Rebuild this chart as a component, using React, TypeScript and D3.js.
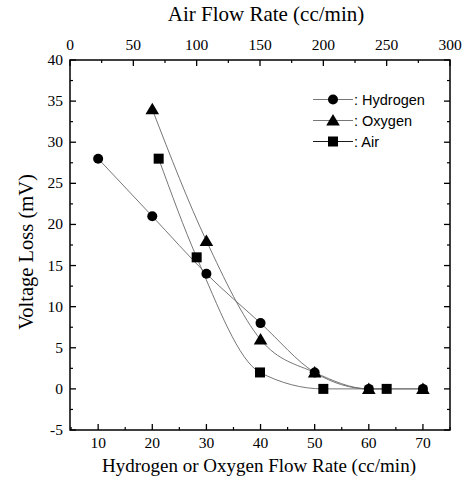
import React from "react";
import * as d3 from "d3";

const hydrogenFlow = [10, 20, 30, 40, 50, 60, 70];
const hydrogenLoss = [28, 21, 14, 8, 2, 0, 0];
const oxygenFlow = [20, 30, 40, 50, 60, 70];
const oxygenLoss = [34, 18, 6, 2, 0, 0];
const airFlow = [70, 100, 150, 200, 250];
const airLoss = [28, 16, 2, 0, 0];
const bottomTicks = [10, 20, 30, 40, 50, 60, 70];
const topTicks = [0, 50, 100, 150, 200, 250, 300];
const yTicks = [-5, 0, 5, 10, 15, 20, 25, 30, 35, 40];
const legendLabels = [": Hydrogen", ": Oxygen", ": Air"];

const L = 70, R = 450, T = 60, B = 430;

export default function App() {
  const x = d3.scaleLinear().domain([4.8, 75]).range([L, R]);
  const xTop = d3.scaleLinear().domain([0, 300]).range([L, R]);
  const y = d3.scaleLinear().domain([-5, 40]).range([B, T]);

  const line = d3
    .line<[number, number]>()
    .x((d) => d[0])
    .y((d) => d[1])
    .curve(d3.curveMonotoneX);

  const hPts: [number, number][] = hydrogenFlow.map((v, i) => [x(v), y(hydrogenLoss[i])]);
  const oPts: [number, number][] = oxygenFlow.map((v, i) => [x(v), y(oxygenLoss[i])]);
  const aPts: [number, number][] = airFlow.map((v, i) => [xTop(v), y(airLoss[i])]);

  const bottomMinor = d3.range(5, 76, 5).filter((v) => v % 10 !== 0);
  const topMinor = d3.range(25, 300, 50);
  const yMinor = d3.range(-2.5, 40, 5);

  const circle = (cx: number, cy: number, k: string) => (
    <circle key={k} cx={cx} cy={cy} r={5} fill="#000" />
  );
  const tri = (cx: number, cy: number, k: string) => (
    <path
      key={k}
      d={`M${cx},${cy - 6.5} L${cx + 6.8},${cy + 5} L${cx - 6.8},${cy + 5} Z`}
      fill="#000"
    />
  );
  const sq = (cx: number, cy: number, k: string) => (
    <rect key={k} x={cx - 5} y={cy - 5} width={10} height={10} fill="#000" />
  );

  const serif = "'Liberation Serif', 'Times New Roman', serif";
  const sans = "'Liberation Sans', Arial, sans-serif";
  const lineColor = "#666";

  const legendY = [99.5, 120.5, 141.5];
  const markers = [circle, tri, sq];

  return (
    <svg
      width={462}
      height={482}
      style={{ position: "absolute", left: 0, top: 0, background: "#fff" }}
    >
      <rect width={462} height={482} fill="#fff" />
      {/* curves */}
      <path d={line(hPts) || ""} fill="none" stroke={lineColor} strokeWidth={0.9} />
      <path d={line(oPts) || ""} fill="none" stroke={lineColor} strokeWidth={0.9} />
      <path d={line(aPts) || ""} fill="none" stroke={lineColor} strokeWidth={0.9} />
      {hPts.map((p, i) => circle(p[0], p[1], "h" + i))}
      {oPts.map((p, i) => tri(p[0], p[1], "o" + i))}
      {aPts.map((p, i) => sq(p[0], p[1], "a" + i))}

      {/* frame */}
      <rect x={L} y={T} width={R - L} height={B - T} fill="none" stroke="#000" strokeWidth={1.5} />

      {/* bottom axis */}
      {bottomTicks.map((v) => (
        <g key={"b" + v}>
          <line x1={x(v)} x2={x(v)} y1={B} y2={B - 6} stroke="#000" strokeWidth={1.3} />
          <text x={x(v)} y={448} textAnchor="middle" fontFamily={serif} fontSize={15.5}>
            {v}
          </text>
        </g>
      ))}
      {bottomMinor.map((v) => (
        <line key={"bm" + v} x1={x(v)} x2={x(v)} y1={B} y2={B - 3} stroke="#000" strokeWidth={1.2} />
      ))}

      {/* top axis */}
      {topTicks.map((v) => (
        <g key={"t" + v}>
          <line x1={xTop(v)} x2={xTop(v)} y1={T} y2={T + 6} stroke="#000" strokeWidth={1.3} />
          <text x={xTop(v)} y={50} textAnchor="middle" fontFamily={serif} fontSize={15.5}>
            {v}
          </text>
        </g>
      ))}
      {topMinor.map((v) => (
        <line key={"tm" + v} x1={xTop(v)} x2={xTop(v)} y1={T} y2={T + 3} stroke="#000" strokeWidth={1.2} />
      ))}

      {/* left & right axes */}
      {yTicks.map((v) => (
        <g key={"y" + v}>
          <line x1={L} x2={L + 6} y1={y(v)} y2={y(v)} stroke="#000" strokeWidth={1.3} />
          <line x1={R} x2={R - 6} y1={y(v)} y2={y(v)} stroke="#000" strokeWidth={1.3} />
          <text x={63} y={y(v) + 5} textAnchor="end" fontFamily={serif} fontSize={15.5}>
            {v}
          </text>
        </g>
      ))}
      {yMinor.map((v) => (
        <g key={"ym" + v}>
          <line x1={L} x2={L + 3} y1={y(v)} y2={y(v)} stroke="#000" strokeWidth={1.2} />
          <line x1={R} x2={R - 3} y1={y(v)} y2={y(v)} stroke="#000" strokeWidth={1.2} />
        </g>
      ))}

      {/* axis titles */}
      <text x={266} y={21} textAnchor="middle" fontFamily={serif} fontSize={21}>
        Air Flow Rate (cc/min)
      </text>
      <text x={259} y={472} textAnchor="middle" fontFamily={serif} fontSize={19}>
        Hydrogen or Oxygen Flow Rate (cc/min)
      </text>
      <text
        transform={`translate(33,252) rotate(-90)`}
        textAnchor="middle"
        fontFamily={serif}
        fontSize={20.5}
      >
        Voltage Loss (mV)
      </text>

      {/* legend */}
      {legendLabels.map((lab, i) => (
        <g key={"lg" + i}>
          <line x1={313} x2={353} y1={legendY[i]} y2={legendY[i]} stroke={i === 2 ? "#000" : lineColor} strokeWidth={0.9} />
          {markers[i](333, legendY[i], "lm" + i)}
          <text x={354} y={legendY[i] + 5} fontFamily={sans} fontSize={14.5}>
            {lab}
          </text>
        </g>
      ))}
    </svg>
  );
}
